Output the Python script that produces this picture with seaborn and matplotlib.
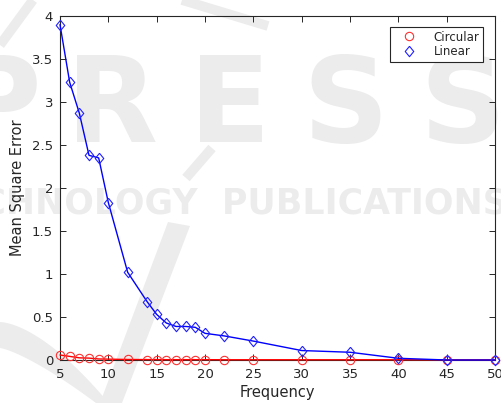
import matplotlib
matplotlib.use("Agg")
import matplotlib.pyplot as plt
from matplotlib.lines import Line2D
from matplotlib.patches import Polygon
import numpy as np
import pandas as pd
import seaborn as sns

# Frequencies sampled and the mean square error for each interpolation scheme
frequency = [5, 6, 7, 8, 9, 10, 12, 14, 15, 16, 17, 18, 19, 20, 22, 25, 30, 35, 40, 45, 50]
mse_circular = [0.058, 0.042, 0.025, 0.022, 0.012, 0.010, 0.006, 0.005, 0.005, 0.004, 0.004,
                0.004, 0.004, 0.004, 0.003, 0.003, 0.003, 0.003, 0.003, 0.002, 0.002]
mse_linear = [3.90, 3.23, 2.87, 2.38, 2.35, 1.83, 1.02, 0.68, 0.53, 0.43, 0.39,
              0.39, 0.38, 0.31, 0.28, 0.22, 0.11, 0.09, 0.02, 0.00, 0.00]

x_ticks = [5, 10, 15, 20, 25, 30, 35, 40, 45, 50]
y_ticks = [0, 0.5, 1, 1.5, 2, 2.5, 3, 3.5, 4]
y_tick_labels = ["0", "0.5", "1", "1.5", "2", "2.5", "3", "3.5", "4"]

sns.set_theme(style="white")
plt.rcParams["font.family"] = ["DejaVu Sans"]

W, H = 502, 403
fig = plt.figure(figsize=(W / 100, H / 100), dpi=100)
ax = fig.add_axes([60 / W, 1 - 360 / H, 435 / W, 344 / H])
ax.set_facecolor("none")


def px(x, y):
    return (x / W, 1 - y / H)


# faint publisher watermark behind the plot
wm = "#ececec"
for ch, cx in zip("PRESS", [-2, 112, 230, 345, 462]):
    fig.text(*px(cx, 142), ch, fontsize=86, fontweight="bold", color=wm,
             ha="center", va="baseline", zorder=-5)
fig.text(*px(508, 214), "TECHNOLOGY  PUBLICATIONS", fontsize=25, fontweight="bold",
         color=wm, ha="right", va="baseline", zorder=-5)
v_arm = [px(168, 222), px(190, 226), px(122, 403), px(100, 403)]
fig.add_artist(Polygon(v_arm, closed=True, transform=fig.transFigure,
                       facecolor=wm, edgecolor="none", zorder=-5))
t = np.linspace(0, 1, 40)
outer = [px(0 + 112 * s, 322 + 85 * s ** 1.6) for s in t]
inner = [px(0 + 100 * s, 348 + 58 * s ** 1.3) for s in t[::-1]]
fig.add_artist(Polygon(outer + inner, closed=True, transform=fig.transFigure,
                       facecolor=wm, edgecolor="none", zorder=-5))
for (x0, y0, x1, y1) in [(0, 45, 33, 0), (182, 0, 268, 26), (212, 148, 186, 178)]:
    fig.add_artist(Line2D([x0 / W, x1 / W], [1 - y0 / H, 1 - y1 / H],
                          transform=fig.transFigure, color=wm, lw=7,
                          solid_capstyle="butt", zorder=-5))

df = pd.DataFrame({"Frequency": frequency, "Circular": mse_circular, "Linear": mse_linear})

diamond = [(0, 1), (0.82, 0), (0, -1), (-0.82, 0), (0, 1)]

sns.lineplot(data=df, x="Frequency", y="Circular", ax=ax, color="#ff0000", lw=1.0,
             marker="o", markersize=6, markerfacecolor="none", markeredgecolor="#ff3030",
             markeredgewidth=0.8, zorder=3, clip_on=False)
sns.lineplot(data=df, x="Frequency", y="Linear", ax=ax, color="#0000ff", lw=1.0,
             marker=diamond, markersize=7.5, markerfacecolor="none", markeredgecolor="#2020ff",
             markeredgewidth=0.8, zorder=4, clip_on=False)

ax.set_xlim(5, 50)
ax.set_ylim(0, 4)
ax.set_xticks(x_ticks)
ax.set_xticklabels([str(v) for v in x_ticks])
ax.set_yticks(y_ticks)
ax.set_yticklabels(y_tick_labels)

ax.tick_params(direction="in", length=4, width=0.7, colors="#262626", labelsize=9.5,
               top=True, right=True, bottom=True, left=True, pad=5)
ax.tick_params(axis="x", pad=6)
for s in ax.spines.values():
    s.set_visible(True)
    s.set_color("#262626")
    s.set_linewidth(0.8)
    s.set_zorder(2)

ax.set_xlabel("Frequency", fontsize=10.5, color="#262626", labelpad=3)
ax.set_ylabel("Mean Square Error", fontsize=10.5, color="#262626", labelpad=5)

handles = [
    Line2D([], [], linestyle="none", marker="o", markersize=6, markerfacecolor="none",
           markeredgecolor="#ff3030", markeredgewidth=0.8, label="Circular"),
    Line2D([], [], linestyle="none", marker=diamond, markersize=7.5, markerfacecolor="none",
           markeredgecolor="#2020ff", markeredgewidth=0.8, label="Linear"),
]
leg = ax.legend(handles=handles, loc="upper right",
                bbox_to_anchor=((483 - 60) / 435, 1 - (27 - 16) / 344),
                borderaxespad=0, fontsize=8.5, frameon=True, fancybox=False,
                edgecolor="#262626", framealpha=1, handlelength=2.6, handletextpad=0.8,
                borderpad=0.3, labelspacing=0.15)
leg.get_frame().set_linewidth(0.8)
for txt in leg.get_texts():
    txt.set_color("#262626")

fig.savefig("out.png", dpi=100)
